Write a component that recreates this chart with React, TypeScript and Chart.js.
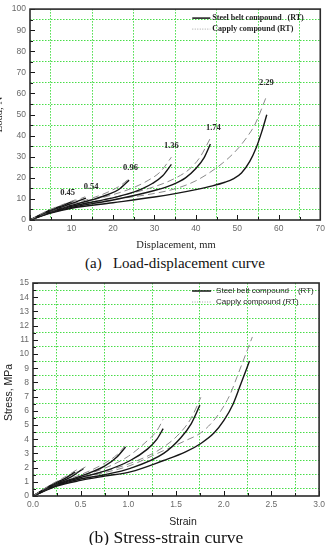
import { useEffect, useRef } from 'react';
import { Chart, registerables } from 'chart.js';

Chart.register(...registerables);

type Pt = [number, number];

// Maximum strain of each loading cycle, printed above the ends of the load curves
const cycleStrains = ['0.45', '0.54', '0.96', '1.36', '1.74', '2.29'];

// (a) Load (N) against displacement (mm) — steel belt compound (RT)
const beltLoad045: Pt[] = [[0, 0], [4, 4.0], [8, 7.0], [10.3, 8.8]];
const beltLoad054: Pt[] = [[0, 0], [4, 3.7], [8, 6.5], [11, 8.5], [13.5, 10.4]];
const beltLoad096: Pt[] = [[0, 0], [5, 4.0], [10, 7.0], [15, 9.6], [19, 12.2], [21.5, 14.6], [23.9, 18.9]];
const beltLoad136: Pt[] = [[0, 0], [5, 3.8], [10, 6.5], [20, 10.5], [24, 12.6], [27, 14.8], [29.5, 17.3], [32, 21.0], [34.1, 26.4]];
const beltLoad174: Pt[] = [[0, 0], [5, 3.5], [10, 6.0], [20, 9.5], [30, 14.0], [34.4, 16.8], [37.5, 20.0], [40, 24.4], [42, 29.6], [43.5, 36.0]];
const beltLoad229: Pt[] = [[0, 0], [5, 3.3], [10, 5.6], [20, 8.2], [30, 10.9], [35, 12.5], [40, 14.4], [44, 16.2], [47, 17.9], [49, 19.5], [51, 22.3], [53, 27.8], [54.5, 34.0], [55.9, 41.9], [57.1, 49.9]];

// (a) Load (N) against displacement (mm) — capply compound (RT)
const capplyLoad045: Pt[] = [[0, 0], [4, 4.2], [8, 7.4], [11, 9.6]];
const capplyLoad054: Pt[] = [[0, 0], [4, 3.9], [8, 6.9], [11, 9.2], [13.3, 11.0]];
const capplyLoad096: Pt[] = [[0, 0], [5, 4.2], [10, 7.4], [15, 10.4], [19, 13.4], [22, 16.6], [24, 19.8]];
const capplyLoad136: Pt[] = [[0, 0], [5, 4.0], [10, 7.0], [20, 12.0], [25, 15.4], [28.5, 18.8], [31.5, 23.0], [34.1, 29.8]];
const capplyLoad174: Pt[] = [[0, 0], [5, 3.8], [10, 6.6], [20, 10.6], [30, 15.8], [35, 19.8], [38.5, 24.2], [41, 29.8], [43.5, 38.8]];
const capplyLoad229: Pt[] = [[0, 0], [5, 3.6], [10, 6.2], [20, 9.6], [30, 12.6], [35.2, 14.9], [40, 18.6], [44.8, 24.5], [48, 29.6], [50.3, 34.2], [52.5, 39.8], [54.3, 45.5], [57, 58.5]];

// (b) Stress (MPa) against strain — steel belt compound (RT)
const beltStress045: Pt[] = [[0, 0], [0.2, 0.8], [0.35, 1.3], [0.44, 1.7]];
const beltStress054: Pt[] = [[0, 0], [0.2, 0.75], [0.4, 1.35], [0.53, 1.95]];
const beltStress096: Pt[] = [[0, 0], [0.25, 0.85], [0.5, 1.4], [0.75, 2.1], [0.88, 2.75], [0.97, 3.45]];
const beltStress136: Pt[] = [[0, 0], [0.25, 0.8], [0.5, 1.3], [0.75, 1.75], [1.02, 2.5], [1.2, 3.3], [1.3, 4.0], [1.365, 4.75]];
const beltStress174: Pt[] = [[0, 0], [0.25, 0.75], [0.5, 1.2], [0.75, 1.5], [1.02, 1.95], [1.37, 3.0], [1.55, 4.1], [1.66, 5.1], [1.75, 6.4]];
const beltStress229: Pt[] = [[0, 0], [0.25, 0.7], [0.5, 1.1], [0.75, 1.4], [1.02, 1.7], [1.37, 2.5], [1.6, 3.1], [1.76, 3.7], [1.9, 4.45], [2.0, 5.3], [2.1, 6.5], [2.18, 7.9], [2.27, 9.5]];

// (b) Stress (MPa) against strain — capply compound (RT)
const capplyStress045: Pt[] = [[0, 0], [0.2, 0.85], [0.35, 1.4], [0.46, 1.85]];
const capplyStress054: Pt[] = [[0, 0], [0.2, 0.8], [0.4, 1.45], [0.55, 2.05]];
const capplyStress096: Pt[] = [[0, 0], [0.25, 0.9], [0.5, 1.5], [0.75, 2.3], [0.88, 2.9], [0.97, 3.55]];
const capplyStress136: Pt[] = [[0, 0], [0.25, 0.85], [0.5, 1.4], [0.75, 1.95], [1.0, 2.8], [1.2, 3.9], [1.3, 4.6], [1.365, 5.4]];
const capplyStress174: Pt[] = [[0, 0], [0.25, 0.8], [0.5, 1.3], [0.75, 1.75], [1.02, 2.3], [1.37, 3.45], [1.55, 4.5], [1.66, 5.5], [1.76, 6.95]];
const capplyStress229: Pt[] = [[0, 0], [0.25, 0.8], [0.5, 1.25], [0.75, 1.65], [1.0, 2.1], [1.37, 3.2], [1.6, 3.9], [1.76, 4.45], [1.88, 5.2], [1.97, 6.0], [2.07, 7.2], [2.14, 8.4], [2.3, 11.2]];

const beltLoad = [beltLoad045, beltLoad054, beltLoad096, beltLoad136, beltLoad174, beltLoad229];
const capplyLoad = [capplyLoad045, capplyLoad054, capplyLoad096, capplyLoad136, capplyLoad174, capplyLoad229];
const beltStress = [beltStress045, beltStress054, beltStress096, beltStress136, beltStress174, beltStress229];
const capplyStress = [capplyStress045, capplyStress054, capplyStress096, capplyStress136, capplyStress174, capplyStress229];

const SANS = "'Liberation Sans', Arial, sans-serif";
const SERIF = "'Liberation Serif', 'Times New Roman', serif";
const GRID_GREEN = 'rgba(40, 215, 40, 0.85)';
const INK = '#161616';
const DASH_GREY = '#8a8a8a';

const toXY = (a: Pt[]) => a.map(([x, y]) => ({ x, y }));

function curveSets(belt: Pt[][], capply: Pt[][]) {
  const sets: any[] = [];
  belt.forEach((b, i) => {
    sets.push({
      label: `Capply compound (RT) ${cycleStrains[i]}`,
      data: toXY(capply[i]),
      borderColor: DASH_GREY,
      borderWidth: 1,
      borderDash: [7, 4],
      pointRadius: 0,
      fill: false,
      cubicInterpolationMode: 'monotone',
    });
    sets.push({
      label: `Steel belt compound (RT) ${cycleStrains[i]}`,
      data: toXY(b),
      borderColor: INK,
      borderWidth: 1.4,
      pointRadius: 0,
      fill: false,
      cubicInterpolationMode: 'monotone',
    });
  });
  return sets;
}

// Linear axis whose labelled steps are "major"; the green dotted grid sits on the unlabelled half steps
function axis(min: number, max: number, step: number, isMajor: (v: number) => boolean, fmt: (v: number) => string, fit: (s: any) => void) {
  return {
    type: 'linear',
    min,
    max,
    afterFit: fit,
    ticks: {
      stepSize: step,
      autoSkip: false,
      maxRotation: 0,
      minRotation: 0,
      padding: 4,
      color: '#6a6a6a',
      font: { family: SANS, size: 8.5 },
      callback: (v: number) => (isMajor(v) ? fmt(v) : ''),
    },
    grid: {
      drawTicks: false,
      lineWidth: 1,
      color: (c: any) => (c.tick && !isMajor(c.tick.value) ? GRID_GREEN : 'rgba(0,0,0,0)'),
    },
    border: { display: false, dash: [1.5, 1.5] },
  };
}

interface Decor {
  xTitle: string;
  xTitleFont: string;
  xTitleX: number;
  xTitleDy: number;
  yTitle: string;
  yTitleFont: string;
  yTitleX: number;
  yTitleDy: number;
  legendFont: string;
  legendLine: [number, number];
  legendTextX: number;
  legendRows: [number, number];
  legendBelt: string;
  legendCapply: string;
  cycleTags?: { ends: Pt[]; nudge: Pt[]; font: string };
}

function decorPlugin(d: Decor) {
  return {
    id: 'decor',
    afterDraw(chart: any) {
      const { ctx, chartArea: a, scales } = chart;
      const x = scales.x;
      const y = scales.y;
      ctx.save();

      // inward tick marks on the bottom and left axes
      ctx.strokeStyle = INK;
      ctx.lineWidth = 1;
      ctx.beginPath();
      x.ticks.forEach((t: any) => {
        const px = Math.round(x.getPixelForValue(t.value)) + 0.5;
        const len = t.label !== '' ? 5 : 3;
        ctx.moveTo(px, a.bottom);
        ctx.lineTo(px, a.bottom - len);
      });
      y.ticks.forEach((t: any) => {
        const py = Math.round(y.getPixelForValue(t.value)) + 0.5;
        const len = t.label !== '' ? 5 : 3;
        ctx.moveTo(a.left, py);
        ctx.lineTo(a.left + len, py);
      });
      ctx.stroke();

      // plot frame
      ctx.lineWidth = 1.6;
      ctx.strokeStyle = '#2a2a2a';
      ctx.strokeRect(a.left, a.top, a.right - a.left, a.bottom - a.top);

      // legend
      const [r1, r2] = d.legendRows;
      const [l0, l1] = d.legendLine;
      ctx.lineWidth = 1.5;
      ctx.strokeStyle = INK;
      ctx.beginPath();
      ctx.moveTo(a.right + l0, a.top + r1);
      ctx.lineTo(a.right + l1, a.top + r1);
      ctx.stroke();
      ctx.lineWidth = 0.8;
      ctx.strokeStyle = '#8a8a8a';
      ctx.setLineDash([1, 1.5]);
      ctx.beginPath();
      ctx.moveTo(a.right + l0, a.top + r2);
      ctx.lineTo(a.right + l1, a.top + r2);
      ctx.stroke();
      ctx.setLineDash([]);
      ctx.fillStyle = '#1e1e1e';
      ctx.font = d.legendFont;
      ctx.textAlign = 'left';
      ctx.textBaseline = 'middle';
      ctx.fillText(d.legendBelt, a.right + d.legendTextX, a.top + r1);
      ctx.fillText(d.legendCapply, a.right + d.legendTextX, a.top + r2);

      // strain level printed over the end of each cycle
      if (d.cycleTags) {
        ctx.font = d.cycleTags.font;
        ctx.fillStyle = '#2a2a2a';
        ctx.textAlign = 'center';
        d.cycleTags.ends.forEach(([ex, ey], i) => {
          const [nx, ny] = d.cycleTags!.nudge[i];
          ctx.fillText(cycleStrains[i], x.getPixelForValue(ex) + nx, y.getPixelForValue(ey) - 10 + ny);
        });
      }

      // axis titles
      ctx.fillStyle = '#222';
      ctx.textAlign = 'center';
      ctx.textBaseline = 'middle';
      ctx.font = d.xTitleFont;
      ctx.fillText(d.xTitle, d.xTitleX, a.bottom + d.xTitleDy);
      ctx.translate(d.yTitleX, (a.top + a.bottom) / 2 + d.yTitleDy);
      ctx.rotate(-Math.PI / 2);
      ctx.font = d.yTitleFont;
      ctx.fillText(d.yTitle, 0, 0);
      ctx.restore();
    },
  };
}

function useChart(ref: React.RefObject<HTMLCanvasElement | null>, make: (c: HTMLCanvasElement) => Chart) {
  useEffect(() => {
    if (!ref.current) return;
    const chart = make(ref.current);
    return () => chart.destroy();
  }, []);
}

const lastPoint = (a: Pt[]): Pt => a[a.length - 1];

export default function App() {
  const loadRef = useRef<HTMLCanvasElement>(null);
  const stressRef = useRef<HTMLCanvasElement>(null);

  useChart(loadRef, (c) =>
    new Chart(c, {
      type: 'line',
      data: { datasets: curveSets(beltLoad, capplyLoad) },
      options: {
        animation: false,
        responsive: false,
        devicePixelRatio: 1,
        layout: { autoPadding: false, padding: { left: 0, right: 7, top: 5, bottom: 0 } },
        plugins: { legend: { display: false }, tooltip: { enabled: false } },
        scales: {
          x: axis(0, 70, 5, (v) => v % 10 === 0, (v) => String(v), (s) => { s.height = 32; }),
          y: axis(0, 100, 5, (v) => v % 10 === 0, (v) => String(v), (s) => { s.width = 30; }),
        },
      } as any,
      plugins: [
        decorPlugin({
          xTitle: 'Displacement, mm',
          xTitleFont: `10.5px ${SERIF}`,
          xTitleX: 176,
          xTitleDy: 25,
          yTitle: 'Load, N',
          yTitleFont: `11px ${SERIF}`,
          yTitleX: -1,
          yTitleDy: 0,
          legendFont: `bold 8px ${SERIF}`,
          legendLine: [-128, -110],
          legendTextX: -108,
          legendRows: [9, 20],
          legendBelt: 'Steel belt compound   (RT)',
          legendCapply: 'Capply compound (RT)',
          cycleTags: {
            ends: capplyLoad.map(lastPoint),
            nudge: [[-8, 3], [6, 0], [1, 0], [0, -1], [3, 0], [0, -4]],
            font: `bold 8.5px ${SERIF}`,
          },
        }),
      ],
    })
  );

  useChart(stressRef, (c) =>
    new Chart(c, {
      type: 'line',
      data: { datasets: curveSets(beltStress, capplyStress) },
      options: {
        animation: false,
        responsive: false,
        devicePixelRatio: 1,
        layout: { autoPadding: false, padding: { left: 0, right: 9, top: 13, bottom: 0 } },
        plugins: { legend: { display: false }, tooltip: { enabled: false } },
        scales: {
          x: axis(0, 3, 0.25, (v) => Math.round(v * 4) % 2 === 0, (v) => v.toFixed(1), (s) => { s.height = 36; }),
          y: axis(0, 15, 0.5, (v) => Math.round(v * 2) % 2 === 0, (v) => String(Math.round(v)), (s) => { s.width = 33; }),
        },
      } as any,
      plugins: [
        decorPlugin({
          xTitle: 'Strain',
          xTitleFont: `10.5px ${SANS}`,
          xTitleX: 183,
          xTitleDy: 26,
          yTitle: 'Stress, MPa',
          yTitleFont: `10.5px ${SANS}`,
          yTitleX: 9,
          yTitleDy: 3,
          legendFont: `8px ${SANS}`,
          legendLine: [-127, -108],
          legendTextX: -103,
          legendRows: [8, 19],
          legendBelt: 'Steel belt compound    (RT)',
          legendCapply: 'Capply compound (RT)',
        }),
      ],
    })
  );

  const caption = (text: string, cx: number, cy: number, size: number) => (
    <div
      style={{
        position: 'absolute',
        left: cx,
        top: cy,
        transform: 'translate(-50%, -50%)',
        whiteSpace: 'pre',
        fontFamily: SERIF,
        fontSize: size,
        color: '#111',
        lineHeight: 1,
      }}
    >
      {text}
    </div>
  );

  return (
    <div style={{ position: 'fixed', left: 0, top: 0, width: 329, height: 545, background: '#fff', overflow: 'hidden' }}>
      <canvas ref={loadRef} width={329} height={252} style={{ position: 'absolute', left: 0, top: 0, width: 329, height: 252 }} />
      {caption('(a)   Load-displacement curve', 175, 263, 15)}
      <canvas ref={stressRef} width={329} height={262} style={{ position: 'absolute', left: 0, top: 270, width: 329, height: 262 }} />
      {caption('(b) Stress-strain curve', 166, 538, 17.5)}
    </div>
  );
}
